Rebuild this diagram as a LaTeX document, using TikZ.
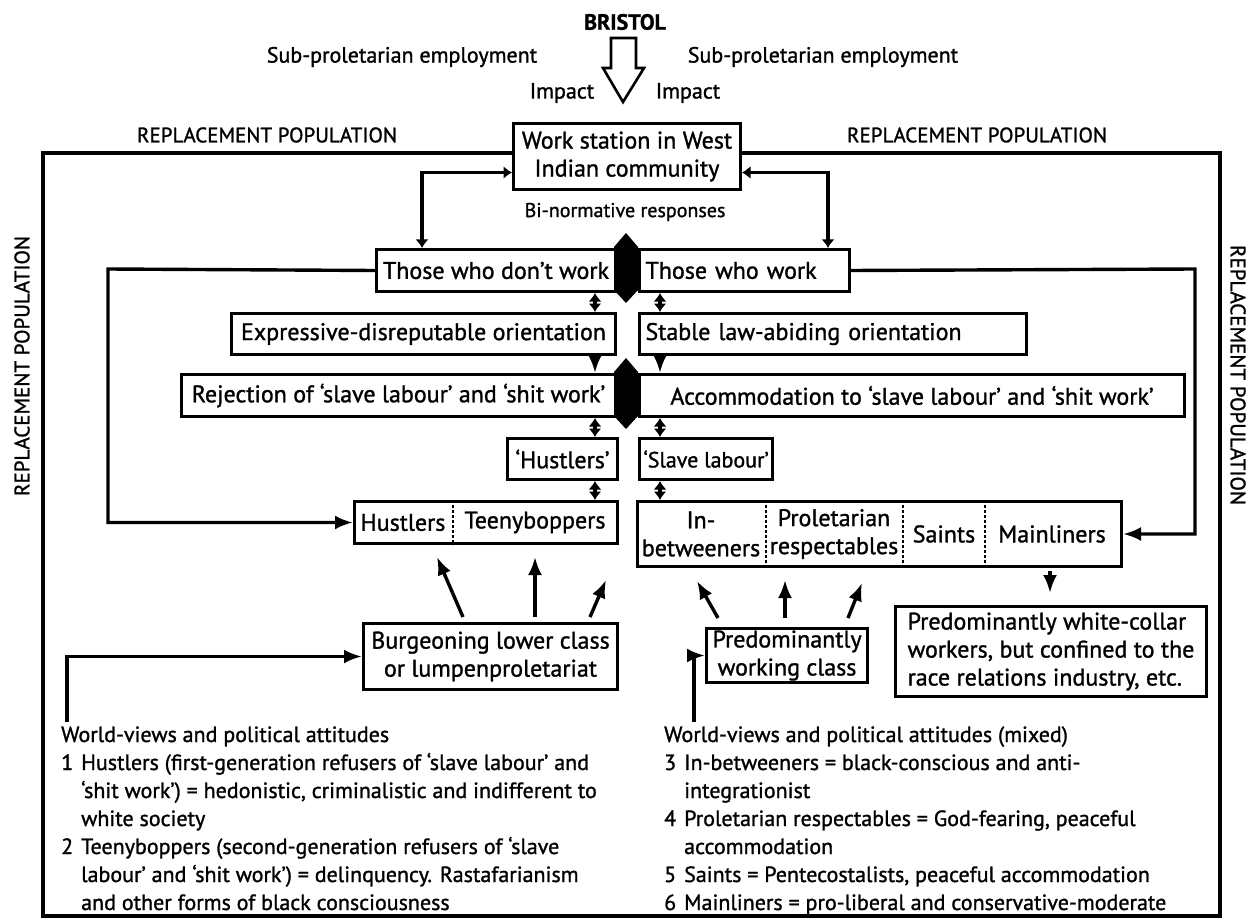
\documentclass[tikz,border=0pt]{standalone}
\usepackage{fontspec}
\setmainfont{PT Sans}[FakeBold=1.2]
\usetikzlibrary{arrows.meta,calc}
\begin{document}
\begin{tikzpicture}[x=1pt,y=-1pt,
  every node/.style={font=\fontsize{24}{28}\selectfont, inner sep=0pt},
  box/.style={draw, line width=3pt, fill=white, inner xsep=6pt, inner ysep=0pt, align=center, anchor=north west},
  con/.style={line width=3.4pt, -{Latex[length=18pt,width=14pt]}},
  dcon/.style={line width=3.4pt, {Latex[length=8.5pt,width=13pt]}-{Latex[length=8.5pt,width=13pt]}},
  div/.style={line width=2.6pt, dash pattern=on 2.5pt off 2.5pt},
  frame/.style={line width=4.5pt},
  small/.style={font=\fontsize{21}{25}\selectfont},
  listtxt/.style={font=\fontsize{22}{28}\selectfont}
]
\useasboundingbox (0,0) rectangle (1253,920);
\fill[white] (0,0) rectangle (1253,920);

% top
\node[font=\fontsize{22}{25}\selectfont\bfseries] (bristol) at (625,22) {BRISTOL};
\draw[line width=2.6pt, fill=white] (611,38) -- (636,38) -- (636,68) -- (644,68) -- (623,102) -- (603,68) -- (611,68) -- cycle;
\node[listtxt] (subl) at (402,57) {Sub-proletarian employment};
\node[listtxt] (subr) at (823,57) {Sub-proletarian employment};
\node[listtxt] (impl) at (562,93) {Impact};
\node[listtxt] (impr) at (688,93) {Impact};
\node[small] (rpl) at (267,135) {REPLACEMENT POPULATION};
\node[small] (rpr) at (977,135) {REPLACEMENT POPULATION};
\node[small, rotate=90] (rpv) at (22,366) {REPLACEMENT POPULATION};
\node[small, rotate=-90] (rpw) at (1238,375) {REPLACEMENT POPULATION};

% frame
\draw[frame] (43,153) rectangle (1220,916);

% boxes
\node[box, minimum width=227pt, minimum height=66pt] (ws) at (512,122) {Work station in West\\Indian community};
\node[font=\fontsize{20}{23}\selectfont] (bin) at (625,212) {Bi-normative responses};
\node[box, minimum width=239pt, minimum height=42pt] (dont) at (375,248) {Those who don’t work};
\node[box, text width=198pt, minimum height=42pt, align=left] (does) at (638,248) {Those who work};
\node[box, minimum width=384pt, minimum height=41pt] (expr) at (230,312) {Expressive-disreputable orientation};
\node[box, text width=375pt, minimum height=41pt, align=left] (stab) at (638,312) {Stable law-abiding orientation};
\node[box, minimum width=434pt, minimum height=42pt] (rej) at (180,373) {Rejection of ‘slave labour’ and ‘shit work’};
\node[box, minimum width=545pt, minimum height=42pt] (acc) at (638,373) {Accommodation to ‘slave labour’ and ‘shit work’};
\node[box, minimum width=110pt, minimum height=41pt] (hq) at (506,437) {‘Hustlers’};
\node[box, minimum width=89pt, minimum height=41pt, inner xsep=4pt, font=\fontsize{22}{26}\selectfont] (sl) at (638,437) {‘Slave labour’};
\node[box, minimum width=263pt, minimum height=42pt] (ht) at (353,500) {};
\node[box, minimum width=484pt, minimum height=65pt] (cls) at (636,500) {};
\node[box, minimum width=254pt, minimum height=66pt] (burg) at (362,622) {Burgeoning lower class\\or lumpenproletariat};
\node[box, minimum width=157pt, minimum height=54pt] (wc) at (705,627) {Predominantly\\working class};
\node[box, minimum width=311pt, minimum height=90pt, align=left] (white) at (894,605) {Predominantly white-collar\\workers, but confined to the\\race relations industry, etc.};

% subdivided boxes
\draw[div] ($(ht.north west)+(100,0)$) -- ($(ht.south west)+(100,0)$);
\node (thus) at ($(ht.west)+(50,0)$) {Hustlers};
\node (tteen) at ($(ht.west)+(182,0)$) {Teenyboppers};
\draw[div] ($(cls.north west)+(130,0)$) -- ($(cls.south west)+(130,0)$);
\draw[div] ($(cls.north west)+(267,0)$) -- ($(cls.south west)+(267,0)$);
\draw[div] ($(cls.north west)+(349,0)$) -- ($(cls.south west)+(349,0)$);
\node[align=center] (tin) at ($(cls.west)+(65,0)$) {In-\\betweeners};
\node[align=center] (tpr) at ($(cls.west)+(198,0)$) {Proletarian\\respectables};
\node (tsa) at ($(cls.west)+(308,0)$) {Saints};
\node (tma) at ($(cls.west)+(416,0)$) {Mainliners};

% black dividers
\fill (626,233) -- (638,247) -- (638,290) -- (626,303) -- (614,290) -- (614,247) -- cycle;
\fill (626,358) -- (638,372) -- (638,416) -- (626,429) -- (614,416) -- (614,372) -- cycle;

% connectors
\draw[dcon] ($(ws.west)+(0,16)$) -| ($(dont.north west)+(47,0)$);
\draw[dcon] ($(ws.east)+(0,16)$) -| ($(does.north west)+(190,0)$);
\draw[dcon] ($(dont.south east)+(-22,0)$) -- ($(expr.north east)+(-22,0)$);
\draw[dcon] ($(does.south west)+(22,0)$) -- ($(stab.north west)+(22,0)$);
\draw[con] ($(expr.south east)+(-22,0)$) -- ($(rej.north east)+(-22,0)$);
\draw[con] ($(stab.south west)+(22,0)$) -- ($(acc.north west)+(22,0)$);
\draw[dcon] ($(rej.south east)+(-22,0)$) -- ($(hq.north east)+(-24,0)$);
\draw[dcon] ($(acc.south west)+(22,0)$) -- ($(sl.north west)+(22,0)$);
\draw[dcon] ($(hq.south east)+(-24,0)$) -- ($(ht.north east)+(-24,0)$);
\draw[dcon] ($(sl.south west)+(22,0)$) -- ($(cls.north west)+(24,0)$);
\draw[con] (dont.west) -- (108,269) |- (ht.west);
\draw[con] (does.east) -- (1195,269) |- (cls.east);
\draw[con] ($(cls.south west)+(414,3)$) -- ($(white.north west)+(156,-12)$);

\draw[con] ($(burg.north west)+(101,-5)$) -- ($(ht.south west)+(84,12)$);
\draw[con] ($(burg.north west)+(173,-5)$) -- ($(ht.south west)+(182,12)$);
\draw[con] ($(burg.north west)+(228,-5)$) -- ($(ht.south west)+(253,35)$);
\draw[con] ($(wc.north west)+(13,-9)$) -- ($(cls.south west)+(61,13)$);
\draw[con] ($(wc.north west)+(80,-9)$) -- ($(cls.south west)+(149,12)$);
\draw[con] ($(wc.north west)+(143,-9)$) -- ($(cls.south west)+(226,15)$);

\coordinate (lstart) at (67,722);
\draw[con] (lstart) |- (burg.west);
\coordinate (rstart) at (694,722);
\draw[con] (rstart) |- (wc.west);

% bottom texts
\node[anchor=base west, listtxt] (leftlist) at (61,742) {\begin{tabular}[t]{@{}l@{\hspace{8pt}}l@{}}
\multicolumn{2}{@{}l@{}}{World-views and political attitudes}\\
1 & Hustlers (first-generation refusers of ‘slave labour’ and\\
  & ‘shit work’) = hedonistic, criminalistic and indifferent to\\
  & white society\\
2 & Teenyboppers (second-generation refusers of ‘slave\\
  & labour’ and ‘shit work’) = delinquency. Rastafarianism\\
  & and other forms of black consciousness
\end{tabular}};
\node[anchor=base west, listtxt] (rightlist) at (664,742) {\begin{tabular}[t]{@{}l@{\hspace{8pt}}l@{}}
\multicolumn{2}{@{}l@{}}{World-views and political attitudes (mixed)}\\
3 & In-betweeners = black-conscious and anti-\\
  & integrationist\\
4 & Proletarian respectables = God-fearing, peaceful\\
  & accommodation\\
5 & Saints = Pentecostalists, peaceful accommodation\\
6 & Mainliners = pro-liberal and conservative-moderate
\end{tabular}};
\end{tikzpicture}
\end{document}
